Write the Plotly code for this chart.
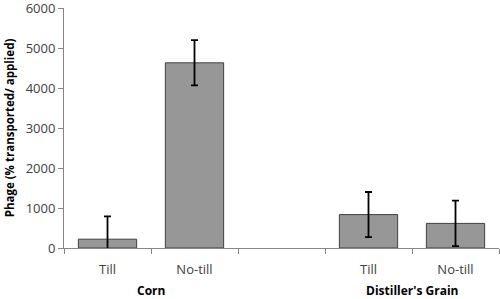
import plotly.graph_objects as go

categories = ["Till", "No-till", " ", "Till ", "No-till "]
tick_labels = ["Till", "No-till", "", "Till", "No-till"]
values = [220, 4630, None, 835, 615]
errors = [570, 565, 0, 565, 567]
groups = ["Corn", "Distiller's Grain"]
group_centers = [0.5, 3.5]
y_ticks = [0, 1000, 2000, 3000, 4000, 5000, 6000]

font_family = "Open Sans, Liberation Sans, Arial, sans-serif"

fig = go.Figure()
fig.add_trace(go.Bar(
    x=categories, y=values,
    marker=dict(color="#979797", line=dict(color="#404040", width=1)),
    error_y=dict(type="data", array=errors, visible=True, color="#000000",
                 thickness=1.8, width=3.5),
    width=0.67,
))

for g, c in zip(groups, group_centers):
    fig.add_annotation(x=c, y=0, xref="x", yref="paper", yshift=-42,
                       yanchor="middle", xanchor="center",
                       text="<b>%s</b>" % g, showarrow=False,
                       font=dict(family=font_family, size=12, color="#000000"))

fig.update_layout(
    width=500, height=299,
    margin=dict(l=64, r=1, t=8, b=51),
    plot_bgcolor="white", paper_bgcolor="white",
    showlegend=False,
    font=dict(family=font_family, size=13, color="#404040"),
    xaxis=dict(type="category", categoryorder="array", categoryarray=categories,
               tickmode="array", tickvals=categories, ticktext=tick_labels,
               tickson="boundaries", ticks="outside", ticklen=5,
               tickcolor="#868686", showline=True, linecolor="#868686",
               linewidth=1, showgrid=False, range=[-0.5, 4.5],
               automargin=False, ticklabelstandoff=9,
               tickfont=dict(size=13, color="#404040")),
    yaxis=dict(range=[0, 6000], tickmode="array", tickvals=y_ticks,
               ticks="outside", ticklen=5, ticklabeloverflow="allow",
               tickcolor="#868686", showline=True, linecolor="#868686",
               linewidth=1, showgrid=False, zeroline=False, automargin=False,
               tickfont=dict(size=13, color="#404040"),
               title=dict(text="<b>Phage (% transported/ applied)</b>",
                          font=dict(size=11.5, color="#000000"), standoff=8)),
)

fig.write_html("out.html", config={"displayModeBar": False},
               post_script="document.body.style.margin='0px';")
